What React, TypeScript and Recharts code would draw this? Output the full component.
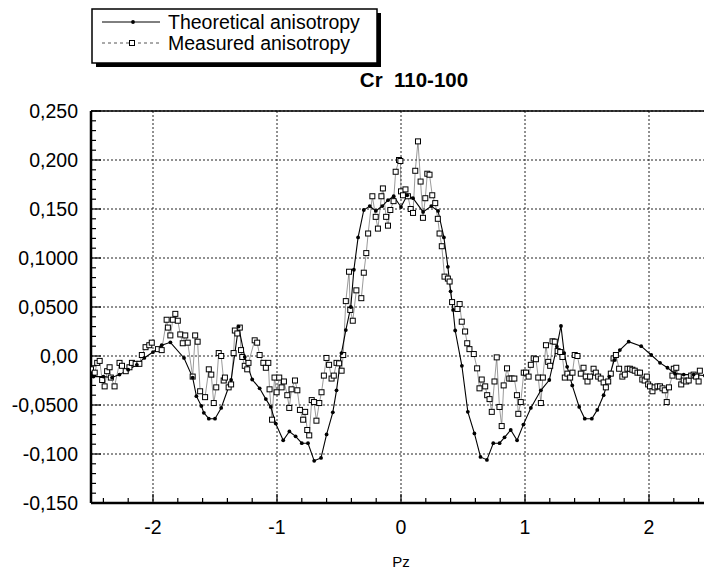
import React from "react";
import { ComposedChart, Line, XAxis, YAxis, CartesianGrid } from "recharts";

// Theoretical anisotropy (solid line, small dots)
const theoryPz = [
  -2.5, -2.48, -2.4, -2.33, -2.27, -2.2, -2.13, -2.07, -2.0, -1.93, -1.86,
  -1.75, -1.68, -1.65, -1.61, -1.59, -1.55, -1.5, -1.45, -1.37, -1.31, -1.26,
  -1.2, -1.14, -1.09, -1.05, -1.01, -0.95, -0.9, -0.85, -0.8, -0.75, -0.7,
  -0.645, -0.6, -0.55, -0.52, -0.48, -0.445, -0.405, -0.38, -0.346, -0.3,
  -0.252, -0.203, -0.151, -0.105, -0.059, 0.0, 0.05, 0.097, 0.178, 0.244,
  0.299, 0.346, 0.378, 0.4, 0.42, 0.437, 0.491, 0.539, 0.592, 0.641, 0.693,
  0.744, 0.795, 0.835, 0.885, 0.936, 0.987, 1.047, 1.128, 1.196, 1.257, 1.29,
  1.316, 1.34, 1.381, 1.437, 1.482, 1.539, 1.583, 1.634, 1.68, 1.72, 1.765,
  1.836, 1.937, 2.018, 2.089, 2.149, 2.21, 2.28, 2.36, 2.45,
];
const theoryAniso = [
  -0.02, -0.021, -0.021, -0.022, -0.019, -0.014, -0.009, -0.002, 0.004, 0.011,
  0.014, -0.002, -0.022, -0.041, -0.051, -0.058, -0.064, -0.064, -0.053,
  -0.0245, 0.03, -0.001, -0.024, -0.033, -0.044, -0.052, -0.069, -0.086,
  -0.077, -0.082, -0.089, -0.089, -0.107, -0.104, -0.08, -0.0575, -0.035,
  0.003, 0.0265, 0.05, 0.088, 0.121, 0.149, 0.153, 0.148, 0.153, 0.159, 0.163,
  0.152, 0.164, 0.161, 0.147, 0.153, 0.148, 0.121, 0.091, 0.066, 0.047, 0.026,
  -0.01, -0.057, -0.079, -0.103, -0.106, -0.089, -0.089, -0.083, -0.0755,
  -0.086, -0.07, -0.053, -0.035, -0.0245, 0.0095, 0.0306, 0.003, -0.011, -0.03,
  -0.052, -0.064, -0.064, -0.055, -0.04, -0.021, -0.004, 0.006, 0.0146, 0.01,
  0.001, -0.007, -0.012, -0.018, -0.019, -0.019, -0.02,
];

// Measured anisotropy (open squares)
const measuredPz = [
  -2.5, -2.47, -2.45, -2.43, -2.41, -2.39, -2.37, -2.35, -2.34, -2.31, -2.27,
  -2.25, -2.22, -2.19, -2.17, -2.14, -2.11, -2.09, -2.06, -2.03, -2.01, -1.96,
  -1.93, -1.89, -1.88, -1.86, -1.84, -1.82, -1.8, -1.78, -1.76, -1.74, -1.72,
  -1.68, -1.66, -1.64, -1.62, -1.58, -1.55, -1.53, -1.51, -1.49, -1.47, -1.45,
  -1.43, -1.42, -1.39, -1.37, -1.35, -1.34, -1.32, -1.3, -1.29, -1.28, -1.26,
  -1.24, -1.23, -1.18, -1.16, -1.14, -1.11, -1.09, -1.07, -1.06, -1.04, -1.02,
  -1.003, -0.982, -0.963, -0.944, -0.917, -0.901, -0.883, -0.855, -0.836,
  -0.815, -0.789, -0.773, -0.756, -0.74, -0.72, -0.702, -0.682, -0.659, -0.641,
  -0.622, -0.601, -0.58, -0.56, -0.542, -0.52, -0.499, -0.479, -0.466, -0.445,
  -0.419, -0.409, -0.389, -0.36, -0.32, -0.3, -0.28, -0.265, -0.231, -0.204,
  -0.186, -0.158, -0.146, -0.12, -0.105, -0.086, -0.06, -0.043, -0.016, -0.005,
  0.0, 0.016, 0.036, 0.056, 0.078, 0.097, 0.115, 0.137, 0.158, 0.177, 0.196,
  0.212, 0.23, 0.252, 0.276, 0.297, 0.311, 0.329, 0.351, 0.378, 0.392, 0.412,
  0.455, 0.473, 0.49, 0.517, 0.534, 0.552, 0.587, 0.614, 0.633, 0.651, 0.679,
  0.695, 0.714, 0.732, 0.754, 0.772, 0.794, 0.812, 0.828, 0.855, 0.873, 0.892,
  0.914, 0.935, 0.946, 0.966, 0.99, 1.008, 1.029, 1.047, 1.07, 1.088, 1.107,
  1.128, 1.144, 1.169, 1.187, 1.203, 1.222, 1.24, 1.263, 1.284, 1.302, 1.321,
  1.342, 1.364, 1.383, 1.401, 1.423, 1.45, 1.472, 1.49, 1.504, 1.525, 1.553,
  1.571, 1.59, 1.611, 1.634, 1.652, 1.671, 1.692, 1.714, 1.733, 1.759, 1.785,
  1.805, 1.826, 1.846, 1.866, 1.885, 1.907, 1.927, 1.946, 1.965, 1.982, 1.993,
  2.008, 2.028, 2.045, 2.068, 2.089, 2.109, 2.127, 2.143, 2.161, 2.189, 2.2,
  2.22, 2.24, 2.26, 2.28, 2.3, 2.32, 2.34, 2.36, 2.38, 2.4, 2.41,
];
const measuredAniso = [
  -0.0136, -0.017, -0.007, -0.005, -0.0245, -0.031, -0.0155, -0.0115, -0.022,
  -0.031, -0.007, -0.01, -0.0155, -0.0115, -0.007, -0.008, -0.008, 0.001,
  0.009, 0.011, 0.0136, 0.007, 0.006, 0.037, 0.029, 0.021, 0.037, 0.043, 0.036,
  0.022, 0.013, 0.021, 0.0136, -0.021, 0.021, 0.0146, -0.036, -0.042, -0.0136,
  -0.019, -0.048, -0.032, 0.003, 0.0, -0.025, -0.022, -0.032, -0.029, 0.003,
  0.026, 0.023, 0.029, 0.006, -0.001, -0.01, -0.0136, -0.007, 0.016, 0.0136,
  0.001, -0.007, -0.012, -0.007, -0.034, -0.065, -0.022, -0.037, -0.022,
  -0.032, -0.026, -0.04, -0.053, -0.034, -0.025, -0.035, -0.055, -0.065,
  -0.057, -0.0755, -0.081, -0.045, -0.047, -0.066, -0.048, -0.037, -0.02,
  -0.002, -0.009, -0.023, -0.02, -0.007, -0.0075, -0.015, 0.001, 0.056, 0.086,
  0.047, 0.036, 0.067, 0.059, 0.085, 0.105, 0.125, 0.163, 0.142, 0.13, 0.163,
  0.171, 0.142, 0.133, 0.149, 0.158, 0.188, 0.2, 0.199, 0.168, 0.164, 0.17,
  0.163, 0.15, 0.146, 0.189, 0.219, 0.178, 0.141, 0.161, 0.186, 0.185, 0.164,
  0.156, 0.14, 0.125, 0.112, 0.081, 0.079, 0.076, 0.055, 0.048, 0.053, 0.035,
  0.025, 0.013, 0.007, 0.002, -0.0126, -0.033, -0.024, -0.031, -0.04, -0.044,
  -0.057, -0.026, -0.0014, -0.052, -0.0715, -0.03, -0.0126, -0.023, -0.023,
  -0.023, -0.04, -0.059, -0.047, -0.017, -0.017, -0.021, -0.009, -0.0025,
  -0.0033, -0.022, -0.048, -0.022, 0.011, -0.006, -0.01, 0.015, 0.0146, 0.005,
  0.004, -0.001, -0.022, -0.018, -0.022, -0.017, 0.001, 0.0, -0.018, -0.012,
  -0.021, -0.026, -0.021, -0.013, -0.017, -0.021, -0.023, -0.027, -0.032,
  -0.026, -0.018, -0.0025, 0.001, -0.013, -0.021, -0.019, -0.013, -0.013,
  -0.014, -0.015, -0.017, -0.017, -0.024, -0.025, -0.021, -0.029, -0.031,
  -0.036, -0.032, -0.031, -0.031, -0.033, -0.035, -0.047, -0.032, -0.02,
  -0.013, -0.012, -0.021, -0.029, -0.025, -0.026, -0.025, -0.02, -0.019,
  -0.021, -0.026, -0.015,
];

const xMajorTicks = [-2, -1, 0, 1, 2];
const xTickLabels = ["-2", "-1", "0", "1", "2"];
const yMajorTicks = [-0.15, -0.1, -0.05, 0, 0.05, 0.1, 0.15, 0.2, 0.25];
const yTickLabels = [
  "-0,150", "-0,100", "-0,0500", "0,00", "0,0500", "0,1000", "0,150", "0,200", "0,250",
];
// tick marks: every 0.2 on Pz, every 0.01 on anisotropy
const xMinorTicks = Array.from({ length: 25 }, (_, i) => Math.round((-2.4 + i * 0.2) * 10) / 10);
const yMinorTicks = Array.from({ length: 41 }, (_, i) => Math.round((-0.15 + i * 0.01) * 100) / 100);

const theoryData = theoryPz.map((x, i) => ({ x, y: theoryAniso[i] }));
const measuredData = measuredPz.map((x, i) => ({ x, y: measuredAniso[i] }));

const FONT = "'Liberation Sans', Arial, Helvetica, sans-serif";
const X_DOMAIN: [number, number] = [-2.5, 2.5];
const Y_DOMAIN: [number, number] = [-0.15, 0.25];

const majorIndex = (list: number[], v: number) =>
  list.findIndex((t) => Math.abs(t - v) < 1e-6);

// bottom axis: inward tick + label on majors
function BottomTick(props: any) {
  const { x, y, payload } = props;
  const i = majorIndex(xMajorTicks, payload.value);
  return (
    <g>
      <line x1={x} y1={y} x2={x} y2={y - (i >= 0 ? 9 : 5)} stroke="#000" strokeWidth={1.2} />
      {i >= 0 && (
        <text x={x} y={y + 17} dy="0.71em" textAnchor="middle" fontFamily={FONT} fontSize={19.5} fill="#000">
          {xTickLabels[i]}
        </text>
      )}
    </g>
  );
}

function TopTick(props: any) {
  const { x, y } = props;
  return <line x1={x} y1={y} x2={x} y2={y + 5} stroke="#000" strokeWidth={1.2} />;
}

function LeftTick(props: any) {
  const { x, y, payload } = props;
  const i = majorIndex(yMajorTicks, payload.value);
  return (
    <g>
      <line x1={x} y1={y} x2={x + (i >= 0 ? 10 : 5)} y2={y} stroke="#000" strokeWidth={1.2} />
      {i >= 0 && (
        <text x={x - 13} y={y} dy="0.355em" textAnchor="end" fontFamily={FONT} fontSize={19.5} fill="#000">
          {yTickLabels[i]}
        </text>
      )}
    </g>
  );
}

function TheoryDot(props: any) {
  const { cx, cy, index } = props;
  if (cx == null || cy == null) return <g key={`t${index}`} />;
  return <circle key={`t${index}`} cx={cx} cy={cy} r={1.9} fill="#000" />;
}

function MeasuredDot(props: any) {
  const { cx, cy, index } = props;
  if (cx == null || cy == null) return <g key={`m${index}`} />;
  return (
    <rect
      key={`m${index}`}
      x={cx - 2.5}
      y={cy - 2.5}
      width={5}
      height={5}
      fill="#fff"
      stroke="#000"
      strokeWidth={1}
    />
  );
}

function Overlay() {
  return (
    <svg
      width={704}
      height={571}
      style={{ position: "absolute", left: 0, top: 0, pointerEvents: "none" }}
    >
      {/* legend box with drop shadow */}
      <rect x={96} y={13} width={285} height={54} fill="#000" />
      <rect x={92} y={9} width={285} height={54} fill="#fff" stroke="#000" strokeWidth={1.5} />
      <line x1={102} y1={22} x2={160} y2={22} stroke="#000" strokeWidth={1} />
      <circle cx={133} cy={22} r={1.9} fill="#000" />
      <line x1={102} y1={43} x2={160} y2={43} stroke="#555" strokeWidth={1} strokeDasharray="3 3" />
      <rect x={129.5} y={40.5} width={5} height={5} fill="#fff" stroke="#000" strokeWidth={1} />
      <text x={168} y={28.5} fontFamily={FONT} fontSize={19.5} fill="#000">
        Theoretical anisotropy
      </text>
      <text x={168} y={49.5} fontFamily={FONT} fontSize={19.5} fill="#000">
        Measured anisotropy
      </text>
      {/* title */}
      <text x={414} y={87} textAnchor="middle" fontFamily={FONT} fontSize={20.5} fontWeight="bold" fill="#000" xmlSpace="preserve">
        Cr  110-100
      </text>
    </svg>
  );
}

export default function App() {
  return (
    <div
      style={{
        position: "fixed",
        left: 0,
        top: 0,
        width: 704,
        height: 571,
        overflow: "hidden",
        background: "#fff",
        fontFamily: FONT,
      }}
    >
      <ComposedChart
        width={720}
        height={571}
        margin={{ top: 111, right: 9, bottom: 0, left: 0 }}
      >
        <CartesianGrid
          horizontalValues={yMajorTicks}
          verticalValues={xMajorTicks}
          stroke="#222"
          strokeDasharray="2 2"
          strokeWidth={1}
        />
        <XAxis
          xAxisId={0}
          type="number"
          dataKey="x"
          domain={X_DOMAIN}
          allowDataOverflow
          ticks={xMinorTicks}
          interval={0}
          height={68}
          axisLine={{ stroke: "#000", strokeWidth: 2.5 }}
          tickLine={false}
          tickSize={0}
          tickMargin={0}
          tick={BottomTick}
          label={{
            value: "Pz",
            position: "insideBottom",
            offset: 4,
            style: { fill: "#000", fontSize: 15, fontFamily: FONT },
          }}
        />
        <XAxis
          xAxisId="top"
          type="number"
          orientation="top"
          mirror
          domain={X_DOMAIN}
          allowDataOverflow
          ticks={xMinorTicks}
          interval={0}
          axisLine={{ stroke: "#000", strokeWidth: 1.5 }}
          tickLine={false}
          tickSize={0}
          tickMargin={0}
          tick={TopTick}
        />
        <YAxis
          yAxisId={0}
          type="number"
          domain={Y_DOMAIN}
          allowDataOverflow
          ticks={yMinorTicks}
          interval={0}
          width={91}
          axisLine={{ stroke: "#000", strokeWidth: 2.5 }}
          tickLine={false}
          tickSize={0}
          tickMargin={0}
          tick={LeftTick}
        />
        <Line
          data={measuredData}
          dataKey="y"
          type="linear"
          stroke="#555"
          strokeWidth={0.6}
          dot={MeasuredDot}
          activeDot={false}
          isAnimationActive={false}
        />
        <Line
          data={theoryData}
          dataKey="y"
          type="linear"
          stroke="#000"
          strokeWidth={1.1}
          dot={TheoryDot}
          activeDot={false}
          isAnimationActive={false}
        />
      </ComposedChart>
      <Overlay />
    </div>
  );
}
